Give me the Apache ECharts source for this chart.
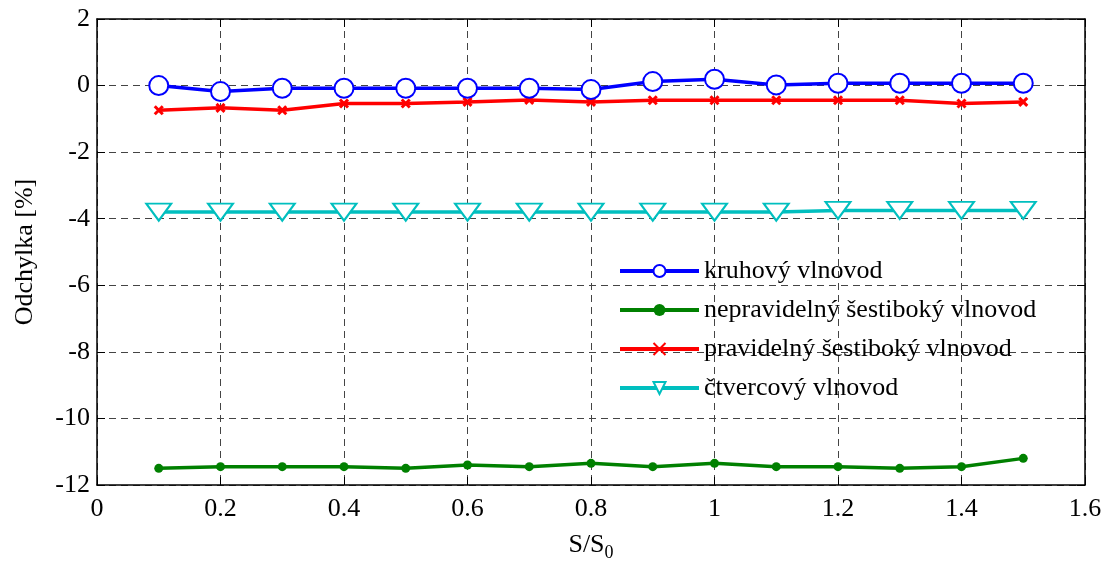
<!DOCTYPE html>
<html>
<head>
<meta charset="utf-8">
<script src="https://cdn.jsdelivr.net/npm/echarts@6/dist/echarts.min.js"></script>
<style>
  html, body { margin: 0; padding: 0; background: #fff; }
  #chart { width: 1108px; height: 562px; }
</style>
</head>
<body>
<div id="chart"></div>
<script>
var xValues = [0.1, 0.2, 0.3, 0.4, 0.5, 0.6, 0.7, 0.8, 0.9, 1.0, 1.1, 1.2, 1.3, 1.4, 1.5];

var kruhovy = [0.0, -0.18, -0.08, -0.08, -0.08, -0.08, -0.08, -0.12, 0.12, 0.19, 0.02, 0.07, 0.07, 0.07, 0.07];
var nepravidelny = [-11.5, -11.45, -11.45, -11.45, -11.5, -11.4, -11.45, -11.35, -11.45, -11.35, -11.45, -11.45, -11.5, -11.45, -11.2];
var pravidelny = [-0.74, -0.67, -0.74, -0.54, -0.54, -0.49, -0.43, -0.49, -0.44, -0.44, -0.44, -0.44, -0.44, -0.54, -0.49];
var ctvercovy = [-3.8, -3.8, -3.8, -3.8, -3.8, -3.8, -3.8, -3.8, -3.8, -3.8, -3.8, -3.75, -3.75, -3.75, -3.75];

var seriesNames = ['kruhový vlnovod', 'nepravidelný šestiboký vlnovod', 'pravidelný šestiboký vlnovod', 'čtvercový vlnovod'];

function pairs(ys) {
    return xValues.map(function(x, i) { return [x, ys[i]]; });
}

var font = 'Liberation Serif, Times New Roman, serif';
var fs = 26;
var chart = echarts.init(document.getElementById('chart'));

var gridLine = { show: true, lineStyle: { color: '#444', type: [7, 5], width: 1 } };

option = {
    animation: false,
    backgroundColor: '#fff',
    grid: { left: 97, right: 23, top: 19, bottom: 77, outerBoundsMode: 'none', containLabel: false },
    legend: {
        orient: 'vertical',
        left: 613,
        top: 253,
        itemWidth: 79,
        itemHeight: 15,
        itemGap: 13,
        lineStyle: { width: 4 },
        textStyle: { fontFamily: font, fontSize: fs, color: '#000' },
        data: seriesNames
    },
    xAxis: [{
        type: 'value',
        min: 0, max: 1.6, interval: 0.2,
        name: '{a|S/S}{b|0}',
        nameLocation: 'middle',
        nameGap: 43,
        nameTextStyle: {
            rich: {
                a: { fontFamily: font, fontSize: fs, color: '#000' },
                b: { fontFamily: font, fontSize: 18, color: '#000', padding: [16, 0, 0, 0] }
            }
        },
        axisLine: { onZero: false, lineStyle: { color: '#000', width: 1.5 } },
        axisTick: { inside: true, length: 8, lineStyle: { color: '#000' } },
        axisLabel: { fontFamily: font, fontSize: fs, color: '#000', margin: 11,
            formatter: function(v) { return String(Math.round(v * 10) / 10); } },
        splitLine: gridLine
    }, {
        type: 'value', position: 'top',
        min: 0, max: 1.6, interval: 0.2,
        axisLine: { show: true, onZero: false, lineStyle: { color: '#000', width: 1.5 } },
        axisTick: { show: true, inside: true, length: 8, lineStyle: { color: '#000' } },
        axisLabel: { show: false },
        splitLine: { show: false }
    }],
    yAxis: [{
        type: 'value',
        min: -12, max: 2, interval: 2,
        name: 'Odchylka [%]',
        nameLocation: 'middle',
        nameGap: 59,
        nameTextStyle: { fontFamily: font, fontSize: fs, color: '#000' },
        axisLine: { show: true, onZero: false, lineStyle: { color: '#000', width: 1.5 } },
        axisTick: { show: true, inside: true, length: 8, lineStyle: { color: '#000' } },
        axisLabel: { fontFamily: font, fontSize: fs, color: '#000', margin: 7 },
        splitLine: gridLine
    }, {
        type: 'value', position: 'right',
        min: -12, max: 2, interval: 2,
        axisLine: { show: true, onZero: false, lineStyle: { color: '#000', width: 1.5 } },
        axisTick: { show: true, inside: true, length: 8, lineStyle: { color: '#000' } },
        axisLabel: { show: false },
        splitLine: { show: false }
    }],
    series: [{
        name: seriesNames[0],
        type: 'line',
        data: pairs(kruhovy),
        symbol: 'emptyCircle',
        symbolSize: 19,
        showAllSymbol: true,
        lineStyle: { color: '#0000ff', width: 3.5 },
        itemStyle: { color: '#0000ff', borderColor: '#0000ff', borderWidth: 3.5 },
        z: 5
    }, {
        name: seriesNames[1],
        type: 'line',
        data: pairs(nepravidelny),
        symbol: 'circle',
        symbolSize: 9,
        lineStyle: { color: '#008000', width: 3.5 },
        itemStyle: { color: '#008000' }
    }, {
        name: seriesNames[2],
        type: 'line',
        data: pairs(pravidelny),
        symbol: 'path://M0,0L10,10M10,0L0,10',
        symbolSize: 8,
        lineStyle: { color: '#ff0000', width: 3.5 },
        itemStyle: { color: '#ff0000', borderColor: '#ff0000', borderWidth: 3 }
    }, {
        name: seriesNames[3],
        type: 'line',
        data: pairs(ctvercovy),
        symbol: 'emptyTriangle',
        symbolRotate: 180,
        symbolSize: [25, 17],
        lineStyle: { color: '#00bfbf', width: 3.5 },
        itemStyle: { color: '#00bfbf', borderColor: '#00bfbf', borderWidth: 3 }
    }]
};
chart.setOption(option);
</script>
</body>
</html>
